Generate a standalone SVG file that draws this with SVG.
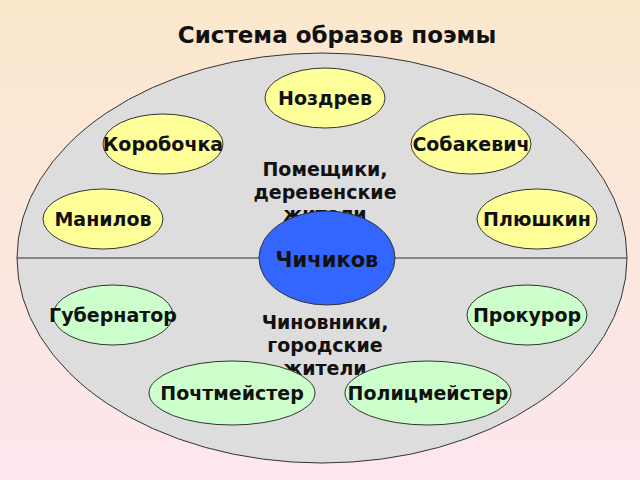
<svg xmlns="http://www.w3.org/2000/svg" width="640" height="480" viewBox="0 0 640 480">
<defs>
<linearGradient id="bg" x1="0" y1="0" x2="0" y2="1">
<stop offset="0" stop-color="#fbe8cc"/><stop offset="1" stop-color="#fde6ee"/>
</linearGradient>
<style>
.n{stroke:#333;stroke-width:1}
.y{fill:#ffff99}.g{fill:#ccffcc}
text{font-family:"DejaVu Sans",sans-serif;font-weight:bold;text-anchor:middle;fill:#111}
.l{font-size:19px}
</style>
</defs>
<rect width="640" height="480" fill="url(#bg)"/>
<text x="337" y="43" font-size="23">Система образов поэмы</text>
<g id="base">
<ellipse cx="322" cy="258" rx="305" ry="205" fill="#dddddd" stroke="#333"/>
</g>
<g id="connectors"><line x1="17" y1="258" x2="627" y2="258" stroke="#333"/></g>
<g id="n1"><ellipse class="n y" cx="325" cy="98" rx="60" ry="30"/><text class="l" x="325" y="105">Ноздрев</text></g>
<g id="n2"><ellipse class="n y" cx="163" cy="144" rx="60" ry="30"/><text class="l" x="163" y="151">Коробочка</text></g>
<g id="n3"><ellipse class="n y" cx="471" cy="144" rx="60" ry="30"/><text class="l" x="471" y="151">Собакевич</text></g>
<g id="n4"><ellipse class="n y" cx="103" cy="219" rx="60" ry="30"/><text class="l" x="103" y="226">Манилов</text></g>
<g id="n5"><ellipse class="n y" cx="537" cy="219" rx="60" ry="30"/><text class="l" x="537" y="226">Плюшкин</text></g>
<g id="lab1"><text class="l" x="325" y="176">Помещики,</text><text class="l" x="325" y="199">деревенские</text><text class="l" x="325" y="221">жители</text></g>
<g id="n6"><ellipse class="n" cx="327" cy="258" rx="68" ry="47" fill="#3366ff"/><text x="327" y="267" font-size="21">Чичиков</text></g>
<g id="n7"><ellipse class="n g" cx="113" cy="315" rx="60" ry="30"/><text class="l" x="113" y="322">Губернатор</text></g>
<g id="n8"><ellipse class="n g" cx="527" cy="315" rx="60" ry="30"/><text class="l" x="527" y="322">Прокурор</text></g>
<g id="lab2"><text class="l" x="325" y="329">Чиновники,</text><text class="l" x="325" y="352">городские</text><text class="l" x="325" y="375">жители</text></g>
<g id="n9"><ellipse class="n g" cx="232" cy="393" rx="83" ry="32"/><text class="l" x="232" y="400">Почтмейстер</text></g>
<g id="n10"><ellipse class="n g" cx="428" cy="393" rx="83" ry="32"/><text class="l" x="428" y="400">Полицмейстер</text></g>
</svg>
